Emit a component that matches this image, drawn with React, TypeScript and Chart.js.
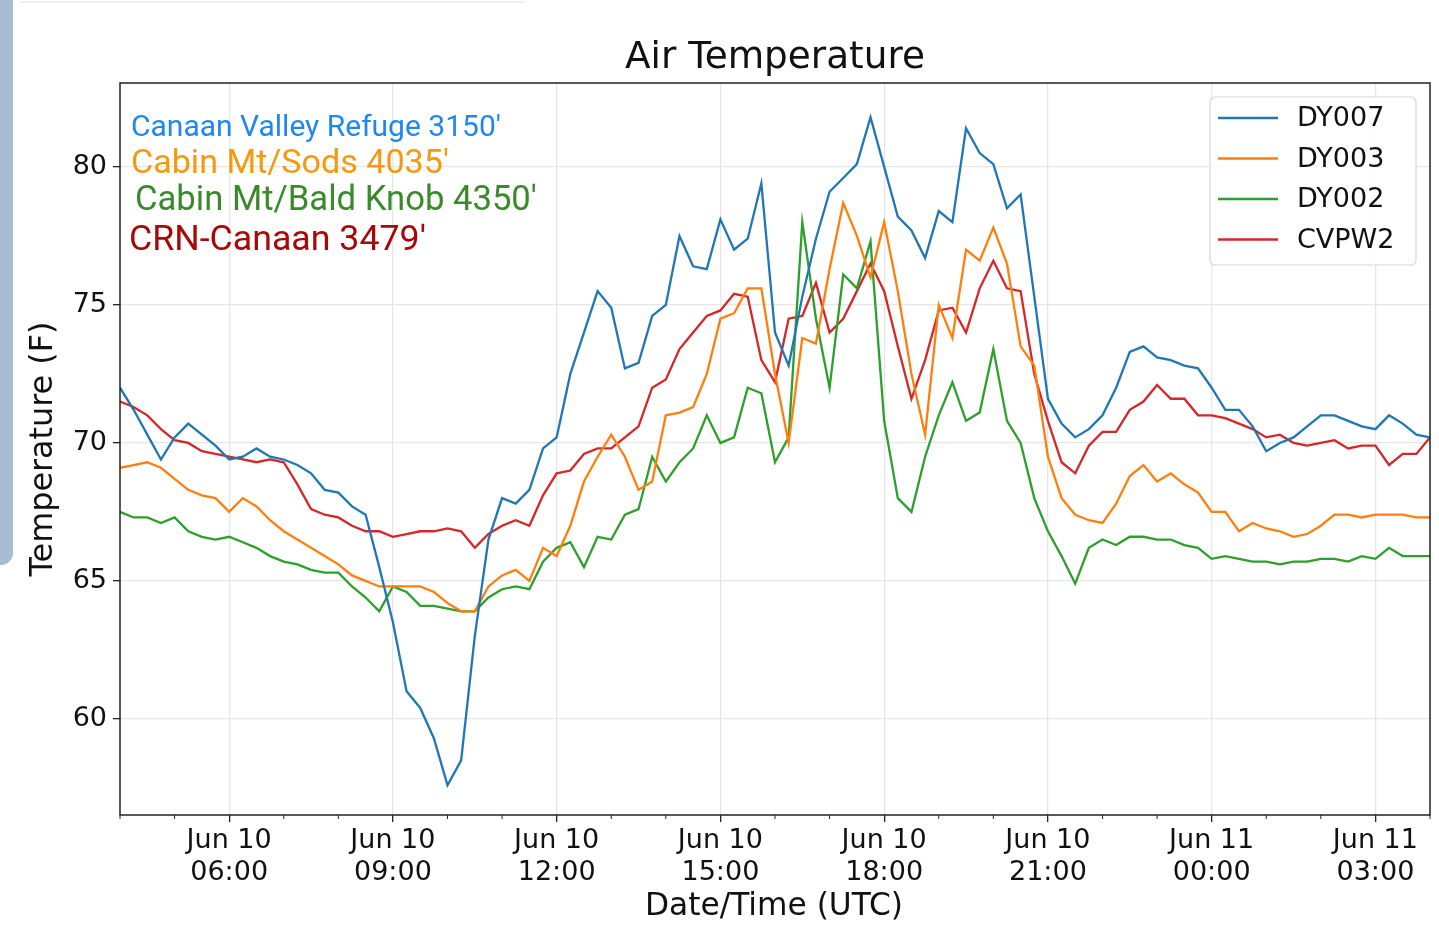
import React, { useEffect, useRef } from "react";
import { Chart, registerables } from "chart.js";
Chart.register(...registerables);

// hours after Jun 10 04:00 UTC, every 15 minutes
const hours: number[] = Array.from({ length: 97 }, (_, i) => i * 0.25);

const dy007 = [
  72.0, 71.2, 70.3, 69.4, 70.2, 70.7, 70.3, 69.9, 69.4, 69.5, 69.8, 69.5,
  69.4, 69.2, 68.9, 68.3, 68.2, 67.7, 67.4, 65.5, 63.5, 61.0, 60.4, 59.3,
  57.6, 58.5, 63.0, 66.5, 68.0, 67.8, 68.3, 69.8, 70.2, 72.5, 74.0, 75.5,
  74.9, 72.7, 72.9, 74.6, 75.0, 77.5, 76.4, 76.3, 78.1, 77.0, 77.4, 79.4,
  74.0, 72.8, 75.3, 77.4, 79.1, 79.6, 80.1, 81.8, 80.0, 78.2, 77.7, 76.7,
  78.4, 78.0, 81.4, 80.5, 80.1, 78.5, 79.0, 75.3, 71.6, 70.7, 70.2, 70.5,
  71.0, 72.0, 73.3, 73.5, 73.1, 73.0, 72.8, 72.7, 72.0, 71.2, 71.2, 70.6,
  69.7, 70.0, 70.2, 70.6, 71.0, 71.0, 70.8, 70.6, 70.5, 71.0, 70.7, 70.3,
  70.2,
];
const dy003 = [
  69.1, 69.2, 69.3, 69.1, 68.7, 68.3, 68.1, 68.0, 67.5, 68.0, 67.7, 67.2,
  66.8, 66.5, 66.2, 65.9, 65.6, 65.2, 65.0, 64.8, 64.8, 64.8, 64.8, 64.6,
  64.2, 63.9, 63.9, 64.8, 65.2, 65.4, 65.0, 66.2, 65.9, 67.0, 68.6, 69.5,
  70.3, 69.5, 68.3, 68.6, 71.0, 71.1, 71.3, 72.5, 74.5, 74.7, 75.6, 75.6,
  72.5, 70.0, 73.8, 73.6, 76.3, 78.7, 77.5, 76.0, 78.0, 75.5, 72.5, 70.3,
  75.0, 73.8, 77.0, 76.6, 77.8, 76.5, 73.5, 72.8, 69.5, 68.0, 67.4, 67.2,
  67.1, 67.8, 68.8, 69.2, 68.6, 68.9, 68.5, 68.2, 67.5, 67.5, 66.8, 67.1,
  66.9, 66.8, 66.6, 66.7, 67.0, 67.4, 67.4, 67.3, 67.4, 67.4, 67.4, 67.3,
  67.3,
];
const dy002 = [
  67.5, 67.3, 67.3, 67.1, 67.3, 66.8, 66.6, 66.5, 66.6, 66.4, 66.2, 65.9,
  65.7, 65.6, 65.4, 65.3, 65.3, 64.8, 64.4, 63.9, 64.8, 64.6, 64.1, 64.1,
  64.0, 63.9, 63.9, 64.4, 64.7, 64.8, 64.7, 65.7, 66.2, 66.4, 65.5, 66.6,
  66.5, 67.4, 67.6, 69.5, 68.6, 69.3, 69.8, 71.0, 70.0, 70.2, 72.0, 71.8,
  69.3, 70.2, 78.0, 74.5, 72.0, 76.1, 75.6, 77.3, 70.8, 68.0, 67.5, 69.5,
  71.0, 72.2, 70.8, 71.1, 73.4, 70.8, 70.0, 68.0, 66.8, 65.9, 64.9, 66.2,
  66.5, 66.3, 66.6, 66.6, 66.5, 66.5, 66.3, 66.2, 65.8, 65.9, 65.8, 65.7,
  65.7, 65.6, 65.7, 65.7, 65.8, 65.8, 65.7, 65.9, 65.8, 66.2, 65.9, 65.9,
  65.9,
];
const cvpw2 = [
  71.5, 71.3, 71.0, 70.5, 70.1, 70.0, 69.7, 69.6, 69.5, 69.4, 69.3, 69.4,
  69.3, 68.5, 67.6, 67.4, 67.3, 67.0, 66.8, 66.8, 66.6, 66.7, 66.8, 66.8,
  66.9, 66.8, 66.2, 66.7, 67.0, 67.2, 67.0, 68.1, 68.9, 69.0, 69.6, 69.8,
  69.8, 70.2, 70.6, 72.0, 72.3, 73.4, 74.0, 74.6, 74.8, 75.4, 75.3, 73.0,
  72.2, 74.5, 74.6, 75.8, 74.0, 74.5, 75.5, 76.5, 75.5, 73.5, 71.6, 73.0,
  74.8, 74.9, 74.0, 75.6, 76.6, 75.6, 75.5, 72.5, 70.8, 69.3, 68.9, 69.9,
  70.4, 70.4, 71.2, 71.5, 72.1, 71.6, 71.6, 71.0, 71.0, 70.9, 70.7, 70.5,
  70.2, 70.3, 70.0, 69.9, 70.0, 70.1, 69.8, 69.9, 69.9, 69.2, 69.6, 69.6,
  70.2,
];

const seriesNames = ["DY007", "DY003", "DY002", "CVPW2"];
const seriesColors = ["#1f77b4", "#ff7f0e", "#2ca02c", "#d62728"];
const xTickHours = [2, 5, 8, 11, 14, 17, 20, 23];
const xTickLabels = [
  ["Jun 10", "06:00"], ["Jun 10", "09:00"], ["Jun 10", "12:00"], ["Jun 10", "15:00"],
  ["Jun 10", "18:00"], ["Jun 10", "21:00"], ["Jun 11", "00:00"], ["Jun 11", "03:00"],
];
const yTicks = [60, 65, 70, 75, 80];
const annotations = [
  { text: "Canaan Valley Refuge 3150'", color: "#1e88f0", x: 131, y: 128, w: 370 },
  { text: "Cabin Mt/Sods 4035'", color: "#f59a10", x: 131, y: 164, w: 318 },
  { text: "Cabin Mt/Bald Knob 4350'", color: "#3a8a2c", x: 135, y: 201, w: 402 },
  { text: "CRN-Canaan 3479'", color: "#a80808", x: 129, y: 241, w: 297 },
];

const FONT = "'DejaVu Sans', sans-serif";

function fitText(ctx: any, text: string, family: string, width: number) {
  ctx.font = `30px ${family}`;
  const w = ctx.measureText(text).width;
  ctx.font = `${(30 * width) / w}px ${family}`;
}

const decor = {
  id: "decor",
  afterDraw(chart: any) {
    const { ctx, chartArea: a, scales } = chart;
    ctx.save();
    ctx.strokeStyle = "#222";
    ctx.lineWidth = 1.5;
    ctx.strokeRect(a.left, a.top, a.right - a.left, a.bottom - a.top);
    ctx.lineWidth = 1;
    for (let h = 0; h <= 24; h++) {
      if (xTickHours.includes(h)) continue;
      const x = scales.x.getPixelForValue(h);
      ctx.beginPath();
      ctx.moveTo(x, a.bottom);
      ctx.lineTo(x, a.bottom + 4);
      ctx.stroke();
    }
    ctx.fillStyle = "#111";
    ctx.textAlign = "center";
    ctx.textBaseline = "middle";
    fitText(ctx, "Air Temperature", FONT, 300);
    ctx.fillText("Air Temperature", 775, 58);
    fitText(ctx, "Date/Time (UTC)", FONT, 258);
    ctx.fillText("Date/Time (UTC)", 774, 907);
    ctx.save();
    ctx.translate(44, 449);
    ctx.rotate(-Math.PI / 2);
    fitText(ctx, "Temperature (F)", FONT, 255);
    ctx.fillText("Temperature (F)", 0, 0);
    ctx.restore();
    ctx.textAlign = "left";
    for (const an of annotations) {
      fitText(ctx, an.text, "Roboto, sans-serif", an.w);
      ctx.fillStyle = an.color;
      ctx.fillText(an.text, an.x, an.y);
    }
    const lx = 1210, ly = 97, lw = 206, lh = 168, r = 5;
    ctx.beginPath();
    ctx.moveTo(lx + r, ly);
    ctx.arcTo(lx + lw, ly, lx + lw, ly + lh, r);
    ctx.arcTo(lx + lw, ly + lh, lx, ly + lh, r);
    ctx.arcTo(lx, ly + lh, lx, ly, r);
    ctx.arcTo(lx, ly, lx + lw, ly, r);
    ctx.closePath();
    ctx.fillStyle = "rgba(255,255,255,0.85)";
    ctx.fill();
    ctx.strokeStyle = "#d8d8d8";
    ctx.lineWidth = 1.2;
    ctx.stroke();
    ctx.font = `27px ${FONT}`;
    seriesNames.forEach((n, i) => {
      const y = 118 + i * 40.5;
      ctx.strokeStyle = seriesColors[i];
      ctx.lineWidth = 2.5;
      ctx.beginPath();
      ctx.moveTo(1218, y);
      ctx.lineTo(1278, y);
      ctx.stroke();
      ctx.fillStyle = "#111";
      ctx.fillText(n, 1297, y + 1);
    });
    ctx.restore();
  },
};

export default function App() {
  const ref = useRef<HTMLCanvasElement>(null);
  useEffect(() => {
    const all = [dy007, dy003, dy002, cvpw2];
    const chart = new Chart(ref.current!, {
      type: "line",
      data: {
        datasets: all.map((d, i) => ({
          label: seriesNames[i],
          data: d.map((v, j) => ({ x: hours[j], y: v })),
          borderColor: seriesColors[i],
          borderWidth: 2.3,
          pointRadius: 0,
          tension: 0,
        })),
      },
      options: {
        animation: false,
        responsive: false,
        layout: { padding: { top: 83, right: 9, left: 0, bottom: 0 } },
        plugins: { legend: { display: false }, tooltip: { enabled: false } },
        scales: {
          x: {
            type: "linear",
            min: 0,
            max: 24,
            afterBuildTicks: (s: any) => { s.ticks = xTickHours.map((v) => ({ value: v })); },
            afterFit: (s: any) => { s.height = 124; },
            ticks: {
              autoSkip: false,
              maxRotation: 0,
              padding: 3,
              color: "#111",
              font: { family: FONT, size: 27, lineHeight: 1.18 },
              callback: (v: any) => xTickLabels[xTickHours.indexOf(Number(v))] ?? "",
            },
            grid: { color: "#e6e6e6", lineWidth: 1.3, tickLength: 7, tickColor: "#222", drawTicks: true },
            border: { display: false },
          },
          y: {
            min: 56.52,
            max: 83.04,
            afterBuildTicks: (s: any) => { s.ticks = yTicks.map((v) => ({ value: v })); },
            afterFit: (s: any) => { s.width = 120; },
            ticks: { color: "#111", padding: 6, font: { family: FONT, size: 27 } },
            grid: { color: "#e6e6e6", lineWidth: 1.3, tickLength: 7, tickColor: "#222" },
            border: { display: false },
          },
        },
      },
      plugins: [decor],
    } as any);
    return () => chart.destroy();
  }, []);
  return (
    <div style={{ position: "fixed", left: 0, top: 0, width: 1439, height: 939, background: "#fff" }}>
      <canvas ref={ref} width={1439} height={939} style={{ position: "absolute", left: 0, top: 0 }} />
      <div style={{ position: "absolute", left: -20, top: -10, width: 33, height: 575, background: "#a6bdd4", borderRadius: 12 }} />
      <div style={{ position: "absolute", left: 20, top: 1, width: 505, height: 2, background: "#f0f0f0" }} />
    </div>
  );
}
